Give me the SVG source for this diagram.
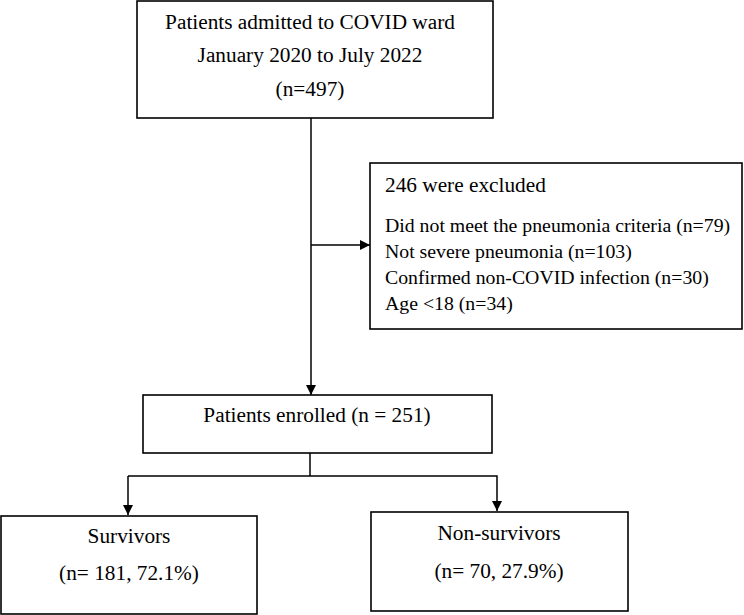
<svg xmlns="http://www.w3.org/2000/svg" width="744" height="615" viewBox="0 0 744 615">
<style>
.box{fill:#fff;stroke:#000;stroke-width:1.6}
.t{font-family:"Liberation Serif","Times New Roman",serif;font-size:21.3px;fill:#000}
.c{text-anchor:middle}
.s{font-size:19.8px}
.ln{fill:none;stroke:#000;stroke-width:1.5}
</style>
<defs>
<marker id="ah" viewBox="0 0 10 10" refX="10" refY="5" markerWidth="10" markerHeight="10" markerUnits="userSpaceOnUse" orient="auto">
<path d="M0,0 L10,5 L0,10 Z" fill="#000"/>
</marker>
</defs>
<rect width="744" height="615" fill="#fff"/>
<g id="connectors">
<line class="ln" x1="311" y1="118" x2="311" y2="395" marker-end="url(#ah)"/>
<line class="ln" x1="311" y1="245" x2="370" y2="245" marker-end="url(#ah)"/>
<line class="ln" x1="310" y1="453" x2="310" y2="476"/>
<polyline class="ln" points="128,476 497,476 497,511" marker-end="url(#ah)"/>
<line class="ln" x1="128" y1="476" x2="128" y2="515" marker-end="url(#ah)"/>
</g>
<g id="admitted">
<rect class="box" x="137" y="1" width="356" height="117"/>
<text class="t c" x="310" y="29">Patients admitted to COVID ward</text>
<text class="t c" x="310" y="62">January 2020 to July 2022</text>
<text class="t c" x="310" y="96">(n=497)</text>
</g>
<g id="excluded">
<rect class="box" x="370" y="163" width="372" height="166"/>
<text class="t" x="385" y="192">246 were excluded</text>
<text class="t s" x="385" y="232">Did not meet the pneumonia criteria (n=79)</text>
<text class="t s" x="385" y="258">Not severe pneumonia (n=103)</text>
<text class="t s" x="385" y="284">Confirmed non-COVID infection (n=30)</text>
<text class="t s" x="385" y="310">Age &lt;18 (n=34)</text>
</g>
<g id="enrolled">
<rect class="box" x="143" y="395" width="349" height="58"/>
<text class="t c" x="317" y="422">Patients enrolled (n = 251)</text>
</g>
<g id="survivors">
<rect class="box" x="1" y="516" width="256" height="98"/>
<text class="t c" x="129" y="543">Survivors</text>
<text class="t c" x="129" y="580">(n= 181, 72.1%)</text>
</g>
<g id="nonsurvivors">
<rect class="box" x="371" y="512" width="257" height="99"/>
<text class="t c" x="499" y="540">Non-survivors</text>
<text class="t c" x="499" y="578">(n= 70, 27.9%)</text>
</g>
</svg>
